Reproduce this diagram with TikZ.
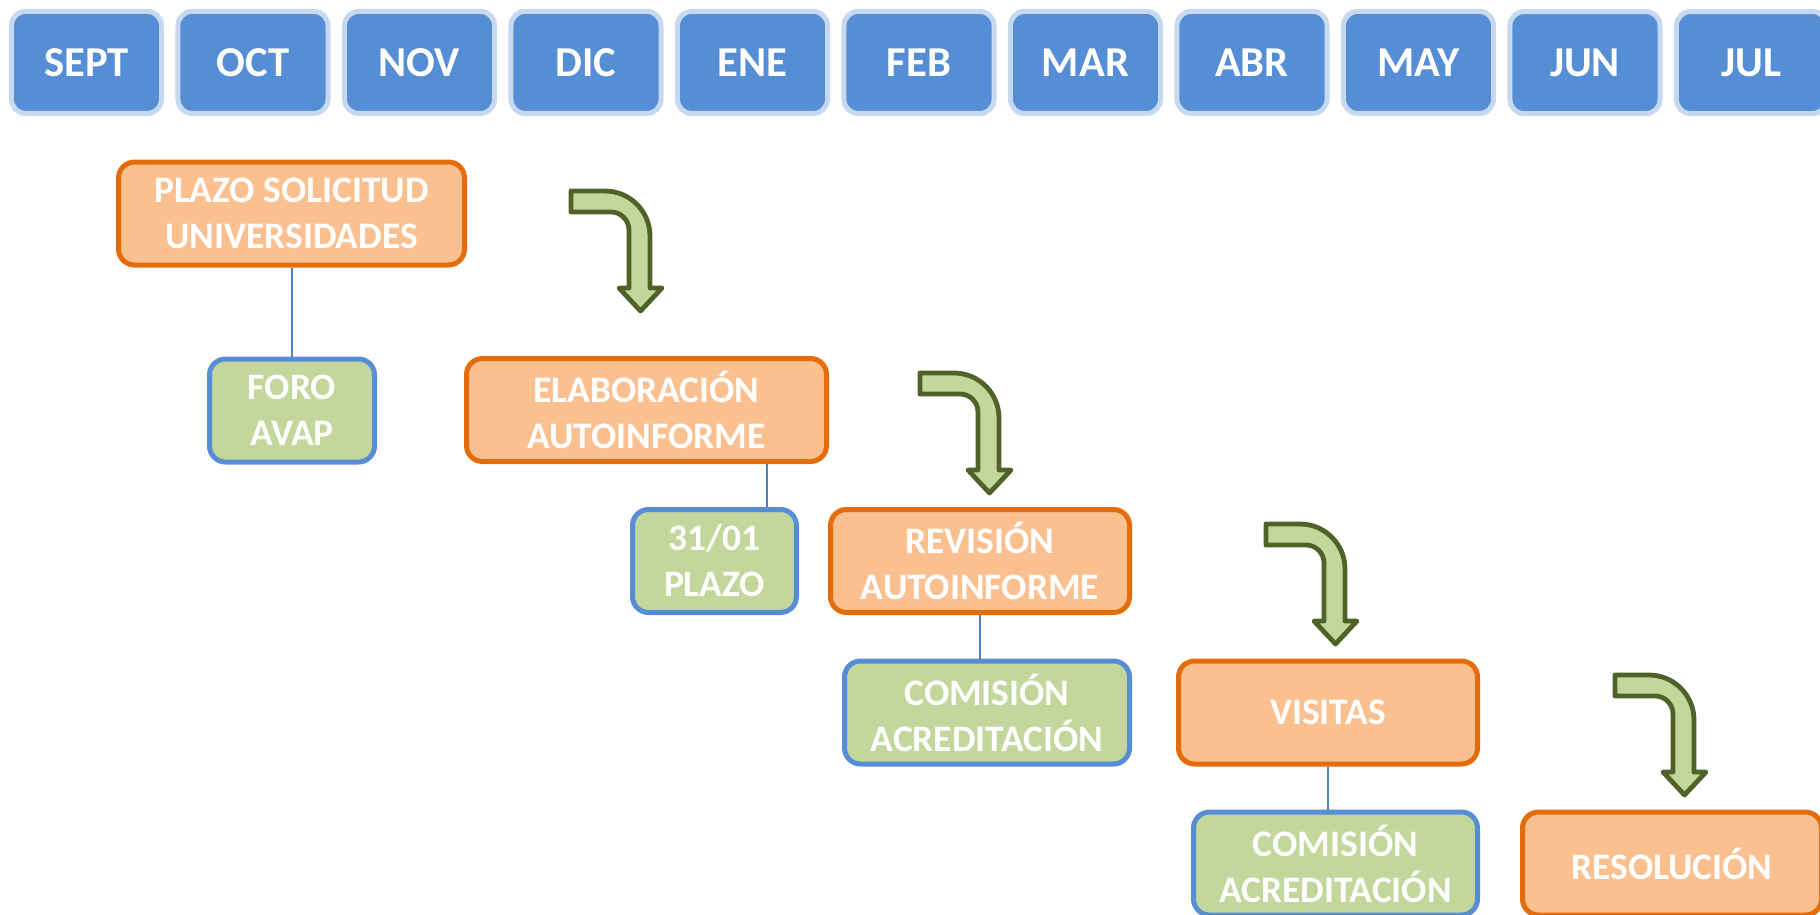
\documentclass[tikz,border=0pt]{standalone}
\usepackage{fontspec}
\setmainfont{Carlito}
\usepackage{tikz}
\usetikzlibrary{matrix}

\definecolor{mesazul}{HTML}{558ED5}
\definecolor{mesborde}{HTML}{C6D9F1}
\definecolor{naranja}{HTML}{FAC090}
\definecolor{naranjaborde}{HTML}{E46C0A}
\definecolor{verde}{HTML}{C3D69B}
\definecolor{verdeborde}{HTML}{4F6228}
\definecolor{linea}{HTML}{4F81BD}

\tikzset{
  orangebox/.style={draw=naranjaborde, fill=naranja, line width=2.5pt, rounded corners=8pt, minimum height=51.5pt, align=center, text=white, font=\fontsize{18.7}{23}\selectfont\bfseries},
  greenbox/.style={orangebox, draw=mesazul, fill=verde},
  bentarrow/.pic={
    \draw[draw=verdeborde, fill=verde, line width=2.4pt, line join=round]
      (2,2) -- (36,2) .. controls (60.8,2) and (81,22.2) .. (81,47) -- (81,99) -- (93,99) -- (71.5,122) -- (50,99) -- (60,99) -- (60,41)
      .. controls (60,31.1) and (51.9,23) .. (42,23) -- (2,23) -- cycle;
  }
}

\begin{document}
\begin{tikzpicture}[x=0.5pt, y=-0.5pt]
  \useasboundingbox (0,0) rectangle (1820,915);
  \clip (0,0) rectangle (1820,915);
  \matrix(meses)[matrix of nodes, inner sep=0pt, column sep=5.75pt, nodes={draw=mesborde, fill=mesazul, line width=2.5pt, rounded corners=7pt, minimum width=75pt, minimum height=51pt, inner sep=2pt, text=white, font=\fontsize{21.3}{25}\selectfont\bfseries}] at (919,62.5) {
    SEPT & OCT & NOV & DIC & ENE & FEB & MAR & ABR & MAY & JUN & JUL \\
  };

  \node[orangebox, minimum width=173pt] (plazo) at (291.5,213.5) {PLAZO SOLICITUD\\UNIVERSIDADES};
  \node[greenbox, minimum width=82.5pt] (foro) at (292,410.5) {FORO\\AVAP};
  \node[orangebox, minimum width=180pt] (elab) at (646.5,410) {ELABORACIÓN\\AUTOINFORME};
  \node[greenbox, minimum width=82pt] (plazo31) at (714.5,561) {31/01\\PLAZO};
  \node[orangebox, minimum width=149.5pt] (revision) at (980,561) {REVISIÓN\\AUTOINFORME};
  \node[greenbox, minimum width=142.5pt] (comision) at (987,712.5) {COMISIÓN\\ACREDITACIÓN};
  \node[orangebox, minimum width=149.5pt] (visitas) at (1328,712.5) {VISITAS};
  \node[greenbox, minimum width=142pt] (comisionb) at (1335.5,863.5) {COMISIÓN\\ACREDITACIÓN};
  \node[orangebox, minimum width=149.5pt] (resolucion) at (1672,863.5) {RESOLUCIÓN};

  \draw[linea, line width=1pt] (plazo.south) -- (plazo.south |- foro.north);
  \draw[linea, line width=1pt] ([xshift=60pt]elab.south) -- ([xshift=60pt]elab.south |- plazo31.north);
  \draw[linea, line width=1pt] (revision.south) -- (revision.south |- comision.north);
  \draw[linea, line width=1pt] (visitas.south) -- (visitas.south |- comisionb.north);

  \pic at (569,189) {bentarrow};
  \pic at (918,371) {bentarrow};
  \pic at (1264,522) {bentarrow};
  \pic at (1613,673) {bentarrow};
\end{tikzpicture}
\end{document}
